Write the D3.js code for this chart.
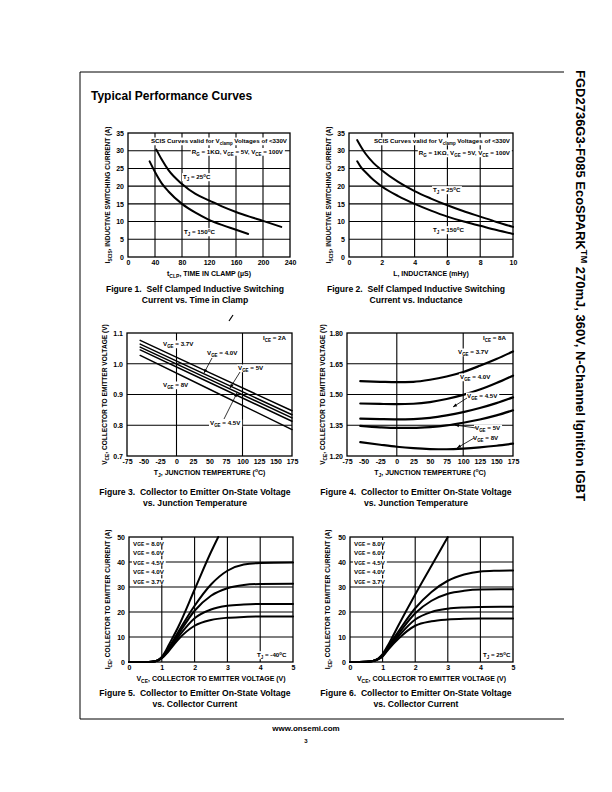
<!DOCTYPE html>
<html><head><meta charset="utf-8">
<script src="https://cdn.jsdelivr.net/npm/d3@7"></script>
<style>
body{margin:0;background:#fff}
svg{display:block}
text{font-family:"Liberation Sans",Arial,Helvetica,sans-serif;font-weight:bold;fill:#000;white-space:pre}
</style>
</head><body>
<svg id="c" width="612" height="792"></svg>
<script>
// ---------------- DATA ----------------
// Figure 1: I_SCIS vs time in clamp
const fig1XTicks = [0,40,80,120,160,200,240];
const fig1YTicks = [0,5,10,15,20,25,30,35];
const fig1Tj25 = [[42,30.3],[50,27.5],[60,24.5],[80,20.6],[100,17.8],[120,16],[140,14.2],[160,12.7],[180,11.4],[200,10.2],[227,8.5]];
const fig1Tj150 = [[32,27],[40,24],[50,20.8],[60,18.5],[80,15],[100,12.5],[120,10.5],[140,9],[160,7.7],[178,6.5]];
// Figure 2: I_SCIS vs inductance
const fig2XTicks = [0,2,4,6,8,10];
const fig2YTicks = [0,5,10,15,20,25,30,35];
const fig2Tj25 = [[0.5,33],[0.75,31],[1,29.2],[1.5,26.5],[2,24.5],[3,21.2],[4,18.6],[5,16.5],[6,14.6],[7,12.9],[8,11.4],[9,9.9],[10,8.5]];
const fig2Tj150 = [[0.5,27],[0.75,25.2],[1,24],[1.5,21.7],[2,19.9],[3,17.2],[4,15],[5,13.1],[6,11.4],[7,10],[8,8.8],[9,7.6],[10,6.5]];
// Figure 3: VCE vs Tj at ICE = 2A
const tempTicks = [-75,-50,-25,0,25,50,75,100,125,150,175];
const fig3YTicks = [0.7,0.8,0.9,1.0,1.1];
const fig3Vge37 = [[-55,1.076],[50,0.971],[175,0.847]];
const fig3Vge40 = [[-55,1.064],[50,0.959],[175,0.834]];
const fig3Vge45 = [[-55,1.054],[50,0.949],[175,0.824]];
const fig3Vge50 = [[-55,1.045],[50,0.939],[175,0.813]];
const fig3Vge80 = [[-55,1.027],[50,0.917],[175,0.786]];
// Figure 4: VCE vs Tj at ICE = 8A
const fig4YTicks = [1.20,1.35,1.50,1.65,1.80];
const fig4Vge37 = [[-55,1.565],[-25,1.562],[0,1.560],[25,1.562],[50,1.572],[75,1.588],[100,1.610],[125,1.640],[150,1.673],[175,1.710]];
const fig4Vge40 = [[-55,1.456],[-25,1.454],[0,1.453],[25,1.455],[50,1.463],[75,1.478],[100,1.498],[125,1.524],[150,1.556],[175,1.592]];
const fig4Vge45 = [[-55,1.382],[-25,1.380],[0,1.379],[25,1.380],[50,1.386],[75,1.398],[100,1.414],[125,1.434],[150,1.458],[175,1.486]];
const fig4Vge50 = [[-55,1.347],[-25,1.340],[0,1.337],[25,1.337],[50,1.341],[75,1.349],[100,1.362],[125,1.378],[150,1.398],[175,1.423]];
const fig4Vge80 = [[-55,1.268],[-25,1.255],[0,1.245],[25,1.238],[50,1.234],[75,1.233],[100,1.236],[125,1.242],[150,1.250],[175,1.260]];
// Figure 5: ICE vs VCE, Tj = -40C
const vceTicks = [0,1,2,3,4,5];
const iceTicks = [0,10,20,30,40,50];
const fig5Vge80 = [[0,0],[0.6,0],[0.8,0.3],[0.9,0.9],[1.0,2],[1.1,4],[1.2,6.5],[1.5,14],[2,29],[2.5,44],[2.72,50]];
const fig5Vge60 = [[0,0],[0.6,0],[0.8,0.3],[0.9,0.8],[1.0,1.8],[1.2,5.5],[1.5,12],[2,22.5],[2.5,31],[3,36.5],[3.5,39],[4,39.6],[5,39.8]];
const fig5Vge45 = [[0,0],[0.6,0],[0.8,0.3],[0.9,0.8],[1.0,1.7],[1.2,5],[1.5,11],[2,20.5],[2.5,26.5],[3,29.5],[3.5,30.8],[4,31.2],[5,31.3]];
const fig5Vge40 = [[0,0],[0.6,0],[0.8,0.3],[0.9,0.8],[1.0,1.6],[1.2,4.6],[1.5,10],[2,17.5],[2.5,21],[3,22.5],[3.5,23],[4,23.2],[5,23.2]];
const fig5Vge37 = [[0,0],[0.6,0],[0.8,0.3],[0.9,0.7],[1.0,1.5],[1.2,4.2],[1.5,9],[2,14.5],[2.5,16.8],[3,17.7],[3.5,18],[4,18.2],[5,18.2]];
// Figure 6: ICE vs VCE, Tj = 25C
const fig6Vge80 = [[0,0],[0.5,0.1],[0.7,0.4],[0.8,0.9],[0.9,1.8],[1.0,3.2],[1.2,7.5],[1.5,15],[2,27],[2.5,38.5],[3,50]];
const fig6Vge60 = [[0,0],[0.5,0.1],[0.7,0.4],[0.8,0.8],[0.9,1.6],[1.0,2.8],[1.2,6.8],[1.5,12.5],[2,21.5],[2.5,28],[3,32.5],[3.5,35],[4,36.2],[4.5,36.5],[5,36.6]];
const fig6Vge45 = [[0,0],[0.5,0.1],[0.7,0.4],[0.8,0.8],[0.9,1.5],[1.0,2.6],[1.2,6.3],[1.5,11.5],[2,19.5],[2.5,24.5],[3,27.3],[3.5,28.5],[4,29],[5,29.1]];
const fig6Vge40 = [[0,0],[0.5,0.1],[0.7,0.4],[0.8,0.8],[0.9,1.4],[1.0,2.4],[1.2,5.8],[1.5,10.5],[2,17],[2.5,20],[3,21.3],[3.5,21.8],[4,22],[5,22.1]];
const fig6Vge37 = [[0,0],[0.5,0.1],[0.7,0.4],[0.8,0.7],[0.9,1.3],[1.0,2.2],[1.2,5.4],[1.5,9.5],[2,14.5],[2.5,16.3],[3,17],[3.5,17.3],[4,17.4],[5,17.4]];
const vgeLabels = ["V{GE} = 8.0V","V{GE} = 6.0V","V{GE} = 4.5V","V{GE} = 4.0V","V{GE} = 3.7V"];

// ---------------- HELPERS ----------------
const svg = d3.select('#c');

// _{..} subscript, ^{..} superscript, {..} small same-baseline
function rich(sel, str, size){
  const parts = str.split(/(_\{[^}]*\}|\^\{[^}]*\}|\{[^}]*\})/).filter(s=>s.length);
  parts.forEach(p=>{
    if(p.startsWith('_{')) sel.append('tspan').attr('font-size',size*0.72).attr('baseline-shift',-size*0.28).text(p.slice(2,-1));
    else if(p.startsWith('^{')) sel.append('tspan').attr('font-size',size*0.72).attr('baseline-shift',size*0.38).text(p.slice(2,-1));
    else if(p.startsWith('{')) sel.append('tspan').attr('font-size',size*0.78).text(p.slice(1,-1));
    else sel.append('tspan').text(p);
  });
  return sel;
}
function label(g, x, y, str, size, anchor, bg){
  const t = g.append('text').attr('x',x).attr('y',y).attr('font-size',size).attr('text-anchor',anchor||'start');
  rich(t, str, size);
  if(bg){
    const b = t.node().getBBox();
    g.insert('rect', function(){return t.node();}).attr('x',b.x-1).attr('y',b.y+0.5).attr('width',b.width+2).attr('height',b.height-1).attr('fill','#fff');
  }
  return t;
}

function chart(cfg){
  const [x0,y0,x1,y1] = cfg.box;
  const g = svg.append('g');
  const x = d3.scaleLinear().domain(cfg.xd).range([x0,x1]);
  const y = d3.scaleLinear().domain(cfg.yd).range([y1,y0]);
  // grid
  g.selectAll('.gx').data(cfg.gx).enter().append('line')
    .attr('x1',d=>x(d)).attr('x2',d=>x(d)).attr('y1',y0).attr('y2',y1)
    .attr('stroke','#000').attr('stroke-width',1.1);
  g.selectAll('.gy').data(cfg.gy).enter().append('line')
    .attr('y1',d=>y(d)).attr('y2',d=>y(d)).attr('x1',x0).attr('x2',x1)
    .attr('stroke','#000').attr('stroke-width',1.1);
  // axes
  const ax = g.append('g').attr('transform',`translate(0,${y1})`)
    .call(d3.axisBottom(x).tickValues(cfg.xt).tickSize(0).tickPadding(3).tickFormat(cfg.xf||(d=>d)));
  const ay = g.append('g').attr('transform',`translate(${x0},0)`)
    .call(d3.axisLeft(y).tickValues(cfg.yt).tickSize(0).tickPadding(4).tickFormat(cfg.yf||(d=>d)));
  [ax,ay].forEach(a=>{
    a.select('.domain').remove();
    a.selectAll('text').attr('font-size',7).attr('font-family','"Liberation Sans",Arial,sans-serif').attr('font-weight','bold').attr('fill','#000');
  });
  // frame
  g.append('rect').attr('x',x0).attr('y',y0).attr('width',x1-x0).attr('height',y1-y0)
    .attr('fill','none').attr('stroke','#000').attr('stroke-width',1.3);
  // curves
  const line = d3.line().x(d=>x(d[0])).y(d=>y(d[1])).curve(cfg.curve||d3.curveMonotoneX);
  const cg = g.append('g');
  cfg.series.forEach(s=>{
    cg.append('path').attr('d',line(s)).attr('fill','none').attr('stroke','#000')
      .attr('stroke-width',cfg.lw||2).attr('stroke-linecap','round');
  });
  // titles
  label(g, (x0+x1)/2, y1+19, cfg.xTitle, 7, 'middle');
  const yt = g.append('text').attr('transform',`translate(${x0-cfg.ytOff},${(y0+y1)/2}) rotate(-90)`)
    .attr('font-size',6.6).attr('text-anchor','middle');
  rich(yt, cfg.yTitle, 6.6);
  // annotations
  (cfg.notes||[]).forEach(n=>{
    label(g, n.x, n.y, n.t, n.s||6.2, n.a||'start', n.bg!==false);
  });
  (cfg.arrows||[]).forEach(a=>{
    g.append('line').attr('x1',a[0]).attr('y1',a[1]).attr('x2',a[2]).attr('y2',a[3])
      .attr('stroke','#000').attr('stroke-width',0.8);
    const ang = Math.atan2(a[3]-a[1],a[2]-a[0]);
    const L=4, W=1.6;
    const p = [[a[2],a[3]],
      [a[2]-L*Math.cos(ang)+W*Math.sin(ang), a[3]-L*Math.sin(ang)-W*Math.cos(ang)],
      [a[2]-L*Math.cos(ang)-W*Math.sin(ang), a[3]-L*Math.sin(ang)+W*Math.cos(ang)]];
    g.append('path').attr('d','M'+p.join('L')+'Z').attr('fill','#000');
  });
  return g;
}

// ---------------- PAGE ----------------
svg.append('line').attr('x1',80).attr('y1',72).attr('x2',80).attr('y2',719).attr('stroke','#000').attr('stroke-width',1);
svg.append('line').attr('x1',80).attr('y1',72).attr('x2',564).attr('y2',72).attr('stroke','#000').attr('stroke-width',1);
svg.append('line').attr('x1',80).attr('y1',719).attr('x2',564).attr('y2',719).attr('stroke','#000').attr('stroke-width',1);

svg.append('text').attr('x',91).attr('y',100).attr('font-size',12).text('Typical Performance Curves');

const vt = svg.append('text').attr('transform','translate(576,70) rotate(90)').attr('font-size',13);
rich(vt,'FGD2736G3-F085 EcoSPARK^{TM} 270mJ, 360V, N-Channel Ignition IGBT',13);

svg.append('text').attr('x',306).attr('y',731).attr('font-size',8).attr('font-weight','normal').attr('text-anchor','middle').text('www.onsemi.com');
svg.append('text').attr('x',306).attr('y',743).attr('font-size',6).attr('font-weight','normal').attr('text-anchor','middle').text('3');

function caption(cx, y, l1, l2){
  svg.append('text').attr('x',cx).attr('y',y).attr('font-size',8.6).attr('text-anchor','middle').text(l1);
  svg.append('text').attr('x',cx).attr('y',y+10.5).attr('font-size',8.6).attr('text-anchor','middle').text(l2);
}

// Figure 1
chart({box:[128,133,290,257], xd:[0,240], yd:[0,35], xt:fig1XTicks, yt:fig1YTicks,
  gx:fig1XTicks.slice(1,-1), gy:fig1YTicks.slice(1,-1), series:[fig1Tj25,fig1Tj150],
  xTitle:'t_{CLP}, TIME IN CLAMP (\u00b5S)', yTitle:'I_{SCIS}, INDUCTIVE SWITCHING CURRENT (A)', ytOff:18,
  notes:[{x:287,y:143,t:'SCIS Curves valid for V_{clamp} Voltages of <330V',a:'end'},
         {x:283,y:153.5,t:'R_{G} = 1K\u03a9, V_{GE} = 5V, V_{CE} = 100V',a:'end'},
         {x:183,y:179,t:'T_{J} = 25^{o}C'},
         {x:184,y:234,t:'T_{J} = 150^{o}C'}]});
caption(195, 292, 'Figure 1.  Self Clamped Inductive Switching', 'Current vs. Time in Clamp');

// Figure 2
chart({box:[349,133,513,257], xd:[0,10], yd:[0,35], xt:fig2XTicks, yt:fig2YTicks,
  gx:fig2XTicks.slice(1,-1), gy:fig2YTicks.slice(1,-1), series:[fig2Tj25,fig2Tj150],
  xTitle:'L, INDUCTANCE (mHy)', yTitle:'I_{SCIS}, INDUCTIVE SWITCHING CURRENT (A)', ytOff:18,
  notes:[{x:510,y:143,t:'SCIS Curves valid for V_{clamp} Voltages of <330V',a:'end'},
         {x:510,y:155,t:'R_{G} = 1K\u03a9, V_{GE} = 5V, V_{CE} = 100V',a:'end'},
         {x:433,y:192,t:'T_{J} = 25^{o}C'},
         {x:433,y:232,t:'T_{J} = 150^{o}C'}]});
caption(416, 292, 'Figure 2.  Self Clamped Inductive Switching', 'Current vs. Inductance');

// Figure 3
chart({box:[127,333,292,456], xd:[-75,175], yd:[0.7,1.1], xt:tempTicks, yt:fig3YTicks,
  yf:d3.format('.1f'), gx:[0,100], gy:[0.8,0.9,1.0], lw:1.5, curve:d3.curveLinear,
  series:[fig3Vge37,fig3Vge40,fig3Vge45,fig3Vge50,fig3Vge80],
  xTitle:'T_{J}, JUNCTION TEMPERTURE (^{o}C)', yTitle:'V_{CE}, COLLECTOR TO EMITTER VOLTAGE (V)', ytOff:20,
  notes:[{x:263,y:340,t:'I_{CE} = 2A'},
         {x:163,y:346,t:'V_{GE} = 3.7V'},
         {x:207,y:355,t:'V_{GE} = 4.0V'},
         {x:238,y:370,t:'V_{GE} = 5V'},
         {x:163,y:387,t:'V_{GE} = 8V'},
         {x:210,y:425,t:'V_{GE} = 4.5V'}],
  arrows:[[212,358,204,373],[240,372,230,388],[224,419,237,393]]});
caption(195, 495, 'Figure 3.  Collector to Emitter On-State Voltage', 'vs. Junction Temperature');

// Figure 4
chart({box:[347,333,513,456], xd:[-75,175], yd:[1.2,1.8], xt:tempTicks, yt:fig4YTicks,
  yf:d3.format('.2f'), gx:[0,100], gy:[1.35,1.5,1.65], lw:2.2,
  series:[fig4Vge37,fig4Vge40,fig4Vge45,fig4Vge50,fig4Vge80],
  xTitle:'T_{J}, JUNCTION TEMPERTURE (^{o}C)', yTitle:'V_{CE}, COLLECTOR TO EMITTER VOLTAGE (V)', ytOff:22,
  notes:[{x:483,y:340,t:'I_{CE} = 8A'},
         {x:458,y:354,t:'V_{GE} = 3.7V'},
         {x:460,y:379,t:'V_{GE} = 4.0V'},
         {x:467,y:398,t:'V_{GE} = 4.5V'},
         {x:475,y:430,t:'V_{GE} = 5V'},
         {x:473,y:440,t:'V_{GE} = 8V'}],
  arrows:[[467,398,453,407],[476,428,455,425],[474,438,457,448]]});
caption(416, 495, 'Figure 4.  Collector to Emitter On-State Voltage', 'vs. Junction Temperature');

// Figure 5
const vgeNotes = (x0)=>vgeLabels.map((t,i)=>({x:x0,y:545.5+i*9.6,t:t}));
chart({box:[129,537,293,662], xd:[0,5], yd:[0,50], xt:vceTicks, yt:iceTicks,
  gx:vceTicks.slice(1,-1), gy:iceTicks.slice(1,-1), lw:2,
  series:[fig5Vge80,fig5Vge60,fig5Vge45,fig5Vge40,fig5Vge37],
  xTitle:'V_{CE}, COLLECTOR TO EMITTER VOLTAGE (V)', yTitle:'I_{CE}, COLLECTOR TO EMITTER CURRENT (A)', ytOff:19,
  notes:vgeNotes(133).concat([{x:257,y:657,t:'T_{J} = -40^{o}C'}])});
caption(195, 696, 'Figure 5.  Collector to Emitter On-State Voltage', 'vs. Collector Current');

// Figure 6
chart({box:[350,537,513,662], xd:[0,5], yd:[0,50], xt:vceTicks, yt:iceTicks,
  gx:vceTicks.slice(1,-1), gy:iceTicks.slice(1,-1), lw:2,
  series:[fig6Vge80,fig6Vge60,fig6Vge45,fig6Vge40,fig6Vge37],
  xTitle:'V_{CE}, COLLECTOR TO EMITTER VOLTAGE (V)', yTitle:'I_{CE}, COLLECTOR TO EMITTER CURRENT (A)', ytOff:20,
  notes:vgeNotes(354).concat([{x:483,y:657,t:'T_{J} = 25^{o}C'}])});
caption(416, 696, 'Figure 6.  Collector to Emitter On-State Voltage', 'vs. Collector Current');

// small stray mark above figure 3
svg.append('line').attr('x1',229).attr('y1',321).attr('x2',233).attr('y2',315).attr('stroke','#000').attr('stroke-width',1.2);
</script>
</body></html>
